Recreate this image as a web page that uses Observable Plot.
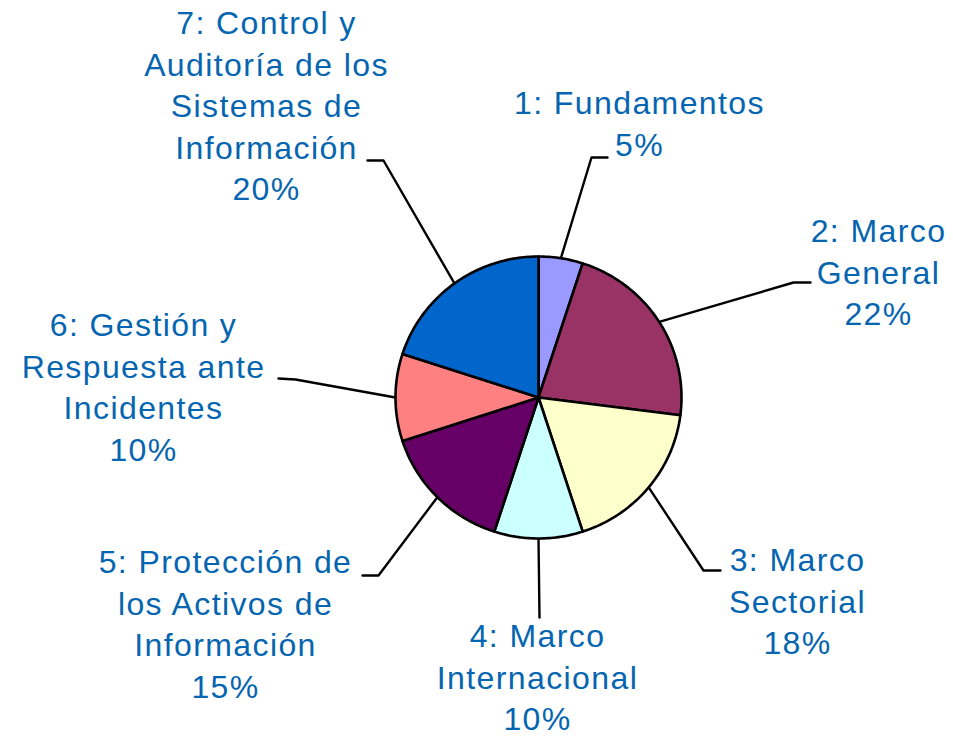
<!DOCTYPE html>
<html>
<head>
<meta charset="utf-8">
<script src="https://cdn.jsdelivr.net/npm/d3@7"></script>
<script src="https://cdn.jsdelivr.net/npm/@observablehq/plot@0.6"></script>
<style>
  html, body { margin: 0; padding: 0; background: #fff; }
</style>
</head>
<body>
<div id="chart"></div>
<script>
// ---- data ----
const categories = [
  "1: Fundamentos",
  "2: Marco General",
  "3: Marco Sectorial",
  "4: Marco Internacional",
  "5: Protección de los Activos de Información",
  "6: Gestión y Respuesta ante Incidentes",
  "7: Control y Auditoría de los Sistemas de Información"
];
const values = [5, 22, 18, 10, 15, 10, 20];
const labelLines = [
  ["1: Fundamentos"],
  ["2: Marco", "General"],
  ["3: Marco", "Sectorial"],
  ["4: Marco", "Internacional"],
  ["5: Protección de", "los Activos de", "Información"],
  ["6: Gestión y", "Respuesta ante", "Incidentes"],
  ["7: Control y", "Auditoría de los", "Sistemas de", "Información"]
];
const colors = ["#9999FF", "#993366", "#FFFFCC", "#CCFFFF", "#660066", "#FF8080", "#0066CC"];

// ---- layout (pixels) ----
const W = 953, H = 739;
const cx = 538, cy = 397, rx = 143, ry = 141;
const fontSize = 32, lineGap = 41.5;
const textColor = "#0565B0";
// label block centre x, first baseline y, leader elbow, leader end
const labelLayout = [
  {x: 639, y: 116, elbow: [591, 157], end: [607, 157]},
  {x: 878, y: 244, elbow: [793, 282], end: [810, 282]},
  {x: 797, y: 573, elbow: [703, 570], end: [720, 570]},
  {x: 537, y: 649, elbow: [539, 617], end: [539, 617]},
  {x: 225, y: 575, elbow: [378, 575], end: [362, 575]},
  {x: 143, y: 338, elbow: [295, 379], end: [278, 378]},
  {x: 266, y: 36,  elbow: [383, 160], end: [367, 160]}
];
const baselineShift = 0.71 * fontSize + 9;

// ---- build geometry from data ----
const total = d3.sum(values);
const arcs = d3.pie().sort(null).value(d => d)(values);
const pt = a => ({px: cx + rx * Math.sin(a), py: cy - ry * Math.cos(a)});

const slices = arcs.map((a, i) => {
  const n = Math.max(2, Math.ceil((a.endAngle - a.startAngle) / (Math.PI / 180)));
  const pts = [{px: cx, py: cy}];
  for (let k = 0; k <= n; k++) pts.push(pt(a.startAngle + (a.endAngle - a.startAngle) * k / n));
  pts.push({px: cx, py: cy});
  return pts.map(p => ({...p, i}));
});

const leaders = arcs.map((a, i) => {
  const m = (a.startAngle + a.endAngle) / 2;
  const L = labelLayout[i];
  return [pt(m), {px: L.elbow[0], py: L.elbow[1]}, {px: L.end[0], py: L.end[1]}].map(p => ({...p, i}));
});

const labels = labelLines.map((lines, i) => ({
  text: [...lines, Math.round(values[i] / total * 100) + "%"].join("\n"),
  x: labelLayout[i].x,
  y: labelLayout[i].y - baselineShift
}));

const marks = [];
leaders.forEach(l => {
  marks.push(Plot.line(l, {x: "px", y: "py", stroke: "#000", strokeWidth: 2.4}));
});
slices.forEach((s, i) => {
  marks.push(Plot.line(s, {x: "px", y: "py", fill: colors[i], stroke: "#000", strokeWidth: 2.6, strokeLinejoin: "round"}));
});
marks.push(Plot.text(labels, {
  x: "x", y: "y", text: "text",
  textAnchor: "middle", lineAnchor: "top", lineHeight: lineGap / fontSize,
  fontSize, fill: textColor
}));

const chart = Plot.plot({
  width: W, height: H,
  margin: 0,
  x: {domain: [0, W], range: [0, W], axis: null},
  y: {domain: [0, H], range: [0, H], axis: null},
  style: {fontFamily: "'Liberation Sans', Arial, sans-serif", letterSpacing: "1.4px", background: "#fff", overflow: "visible"},
  marks
});
document.getElementById("chart").appendChild(chart);
</script>
</body>
</html>
